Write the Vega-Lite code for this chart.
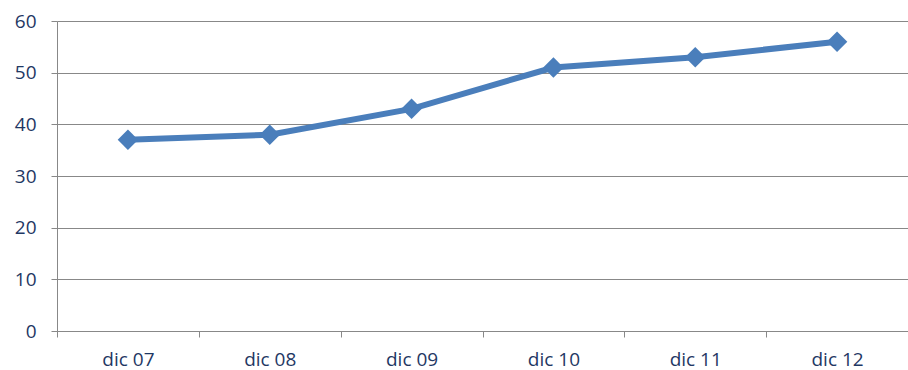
{
  "$schema": "https://vega.github.io/schema/vega-lite/v6.json",
  "width": 851,
  "height": 310,
  "autosize": {"type": "none"},
  "padding": {"left": 57, "top": 21, "right": 0, "bottom": 39},
  "background": "white",
  "data": {"values": [
    {"mes": "dic 07", "valor": 37},
    {"mes": "dic 08", "valor": 38},
    {"mes": "dic 09", "valor": 43},
    {"mes": "dic 10", "valor": 51},
    {"mes": "dic 11", "valor": 53},
    {"mes": "dic 12", "valor": 56}
  ]},
  "config": {
    "view": {"stroke": null},
    "axis": {
      "labelFont": "Open Sans",
      "labelFontSize": 19,
      "labelColor": "#1F3864",
      "domainColor": "#888888",
      "tickColor": "#888888",
      "gridColor": "#888888",
      "domainWidth": 1,
      "tickWidth": 1,
      "gridWidth": 1
    }
  },
  "mark": {"type": "line", "color": "#4A7EBB", "strokeWidth": 6,
    "point": {"shape": "diamond", "size": 420, "filled": true, "color": "#4A7EBB", "opacity": 1}},
  "encoding": {
    "x": {
      "field": "mes", "type": "ordinal", "title": null,
      "scale": {"type": "band", "paddingInner": 0, "paddingOuter": 0},
      "axis": {"labelAngle": 0, "tickBand": "extent", "tickSize": 6, "labelPadding": 13, "grid": false, "domain": true}
    },
    "y": {
      "field": "valor", "type": "quantitative", "title": null,
      "scale": {"domain": [0, 60], "nice": false, "zero": true},
      "axis": {"values": [0, 10, 20, 30, 40, 50, 60], "tickSize": 6, "labelPadding": 15, "grid": true, "domain": true}
    }
  }
}
